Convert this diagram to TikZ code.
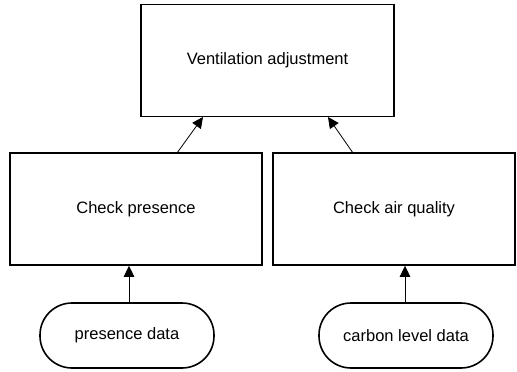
\documentclass[tikz,border=0pt]{standalone}
\usepackage{fontspec}
\setmainfont{Liberation Sans}
\usetikzlibrary{arrows.meta}
\begin{document}
\begin{tikzpicture}[x=1pt,y=-1pt,
  label font/.style={font=\fontsize{16.5}{19}\selectfont},
  procbox/.style={draw,line width=1.6pt,minimum width=#1,minimum height=112pt,inner sep=0pt,label font},
  databox/.style={draw,line width=1.6pt,rounded corners=32pt,minimum width=174pt,minimum height=65pt,inner sep=0pt,label font},
  flow/.style={line width=0.8pt,-{Triangle[length=11pt,width=10.5pt]}}]
\useasboundingbox (0,0) rectangle (517,372);
\node[procbox=253pt] (vent) at (267.5,60.5) {Ventilation adjustment};
\node[procbox=252pt] (pres) at (136,209) {Check presence};
\node[procbox=242pt] (air) at (394,209) {Check air quality};
\node[databox] (pd) at (127,335.5) {presence data};
\node[databox] (cd) at (406,335.5) {carbon level data};
\coordinate (pa) at (177,153);
\coordinate (pb) at (203,117);
\coordinate (aa) at (353,153);
\coordinate (ab) at (328,117);
\draw[flow] (pa) -- (pb);
\draw[flow] (aa) -- (ab);
\draw[flow] (pd.north -| 129,0) -- (pres.south -| 129,0);
\draw[flow] (cd.north -| 405,0) -- (air.south -| 405,0);
\end{tikzpicture}
\end{document}
